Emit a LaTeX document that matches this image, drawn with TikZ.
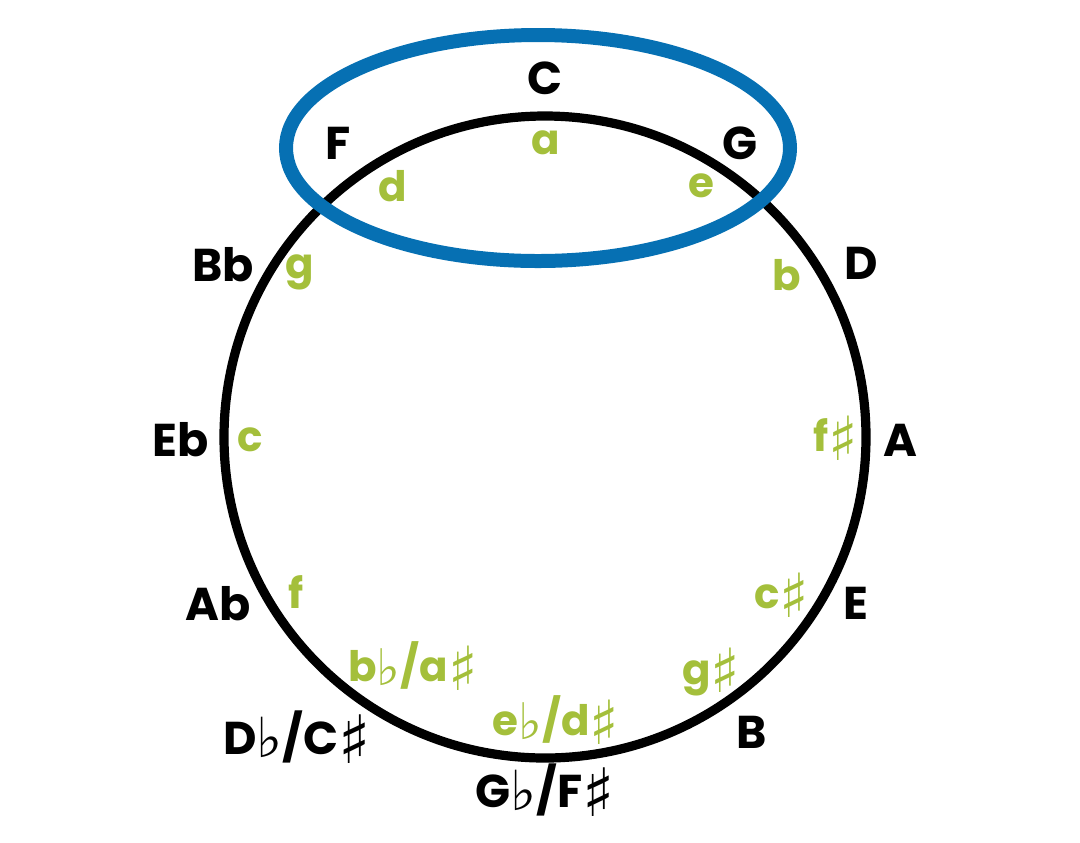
\documentclass[tikz,border=0pt]{standalone}
\usepackage{fontspec}
\setmainfont{Poppins}
\newfontfamily\symfont{DejaVu Sans}
\usepackage{xcolor}
\usepackage{tikz}
\definecolor{minorgreen}{HTML}{A4BF3B}
\definecolor{ringblue}{HTML}{0670B3}
\newcommand{\flt}{\raisebox{-0.08em}{\scalebox{1.2}{\symfont\mdseries ♭}}}
\newcommand{\shp}{\raisebox{-0.2em}{\scalebox{1.45}{\symfont\mdseries ♯}}}

\begin{document}
\begin{tikzpicture}[
    x=0.5pt,y=-0.5pt,
    major/.style={font=\fontsize{23}{26}\selectfont\bfseries,text=black,inner sep=0pt},
    minor/.style={font=\fontsize{21}{24}\selectfont\bfseries,text=minorgreen,inner sep=0pt},
    wheel/.style={draw=black,line width=4.6pt},
    group/.style={draw=ringblue,line width=7pt}
  ]
    \useasboundingbox (0,0) rectangle (1080,842);
    \coordinate (ctr) at (545,437);
    \coordinate (grp) at (538,148);

    % circle of fifths
    \draw[wheel] (ctr) circle[radius=321];

    % major keys (outside)
    \node[major] (kC)  at (545,78)  {C};
    \node[major] (kG)  at (740,143) {G};
    \node[major] (kD)  at (861,263) {D};
    \node[major] (kA)  at (900,440) {A};
    \node[major] (kE)  at (856,603) {E};
    \node[major] (kB)  at (752,732) {B};
    \node[major] (kGb) at (545,790) {G\flt/F\shp};
    \node[major] (kDb) at (297,737) {D\flt/C\shp};
    \node[major] (kAb) at (218,604) {Ab};
    \node[major] (kEb) at (181,440) {Eb};
    \node[major] (kBb) at (223,265) {Bb};
    \node[major] (kF)  at (338,143) {F};

    % relative minors (inside)
    \node[minor] (ma)  at (546,143) {a};
    \node[minor] (me)  at (701,186) {e};
    \node[minor] (mb)  at (787,275) {b};
    \node[minor] (mfs) at (836,438) {f\shp};
    \node[minor] (mcs) at (782,595) {c\shp};
    \node[minor] (mgs) at (711,672) {g\shp};
    \node[minor] (meb) at (556,720) {e\flt/d\shp};
    \node[minor] (mbb) at (413,666) {b\flt/a\shp};
    \node[minor] (mf)  at (296,592) {f};
    \node[minor] (mc)  at (250,440) {c};
    \node[minor] (mg)  at (300,272) {g};
    \node[minor] (md)  at (393,186) {d};

    % highlighted neighbours
    \draw[group] (grp) ellipse[x radius=252,y radius=113];
  \end{tikzpicture}
\end{document}
